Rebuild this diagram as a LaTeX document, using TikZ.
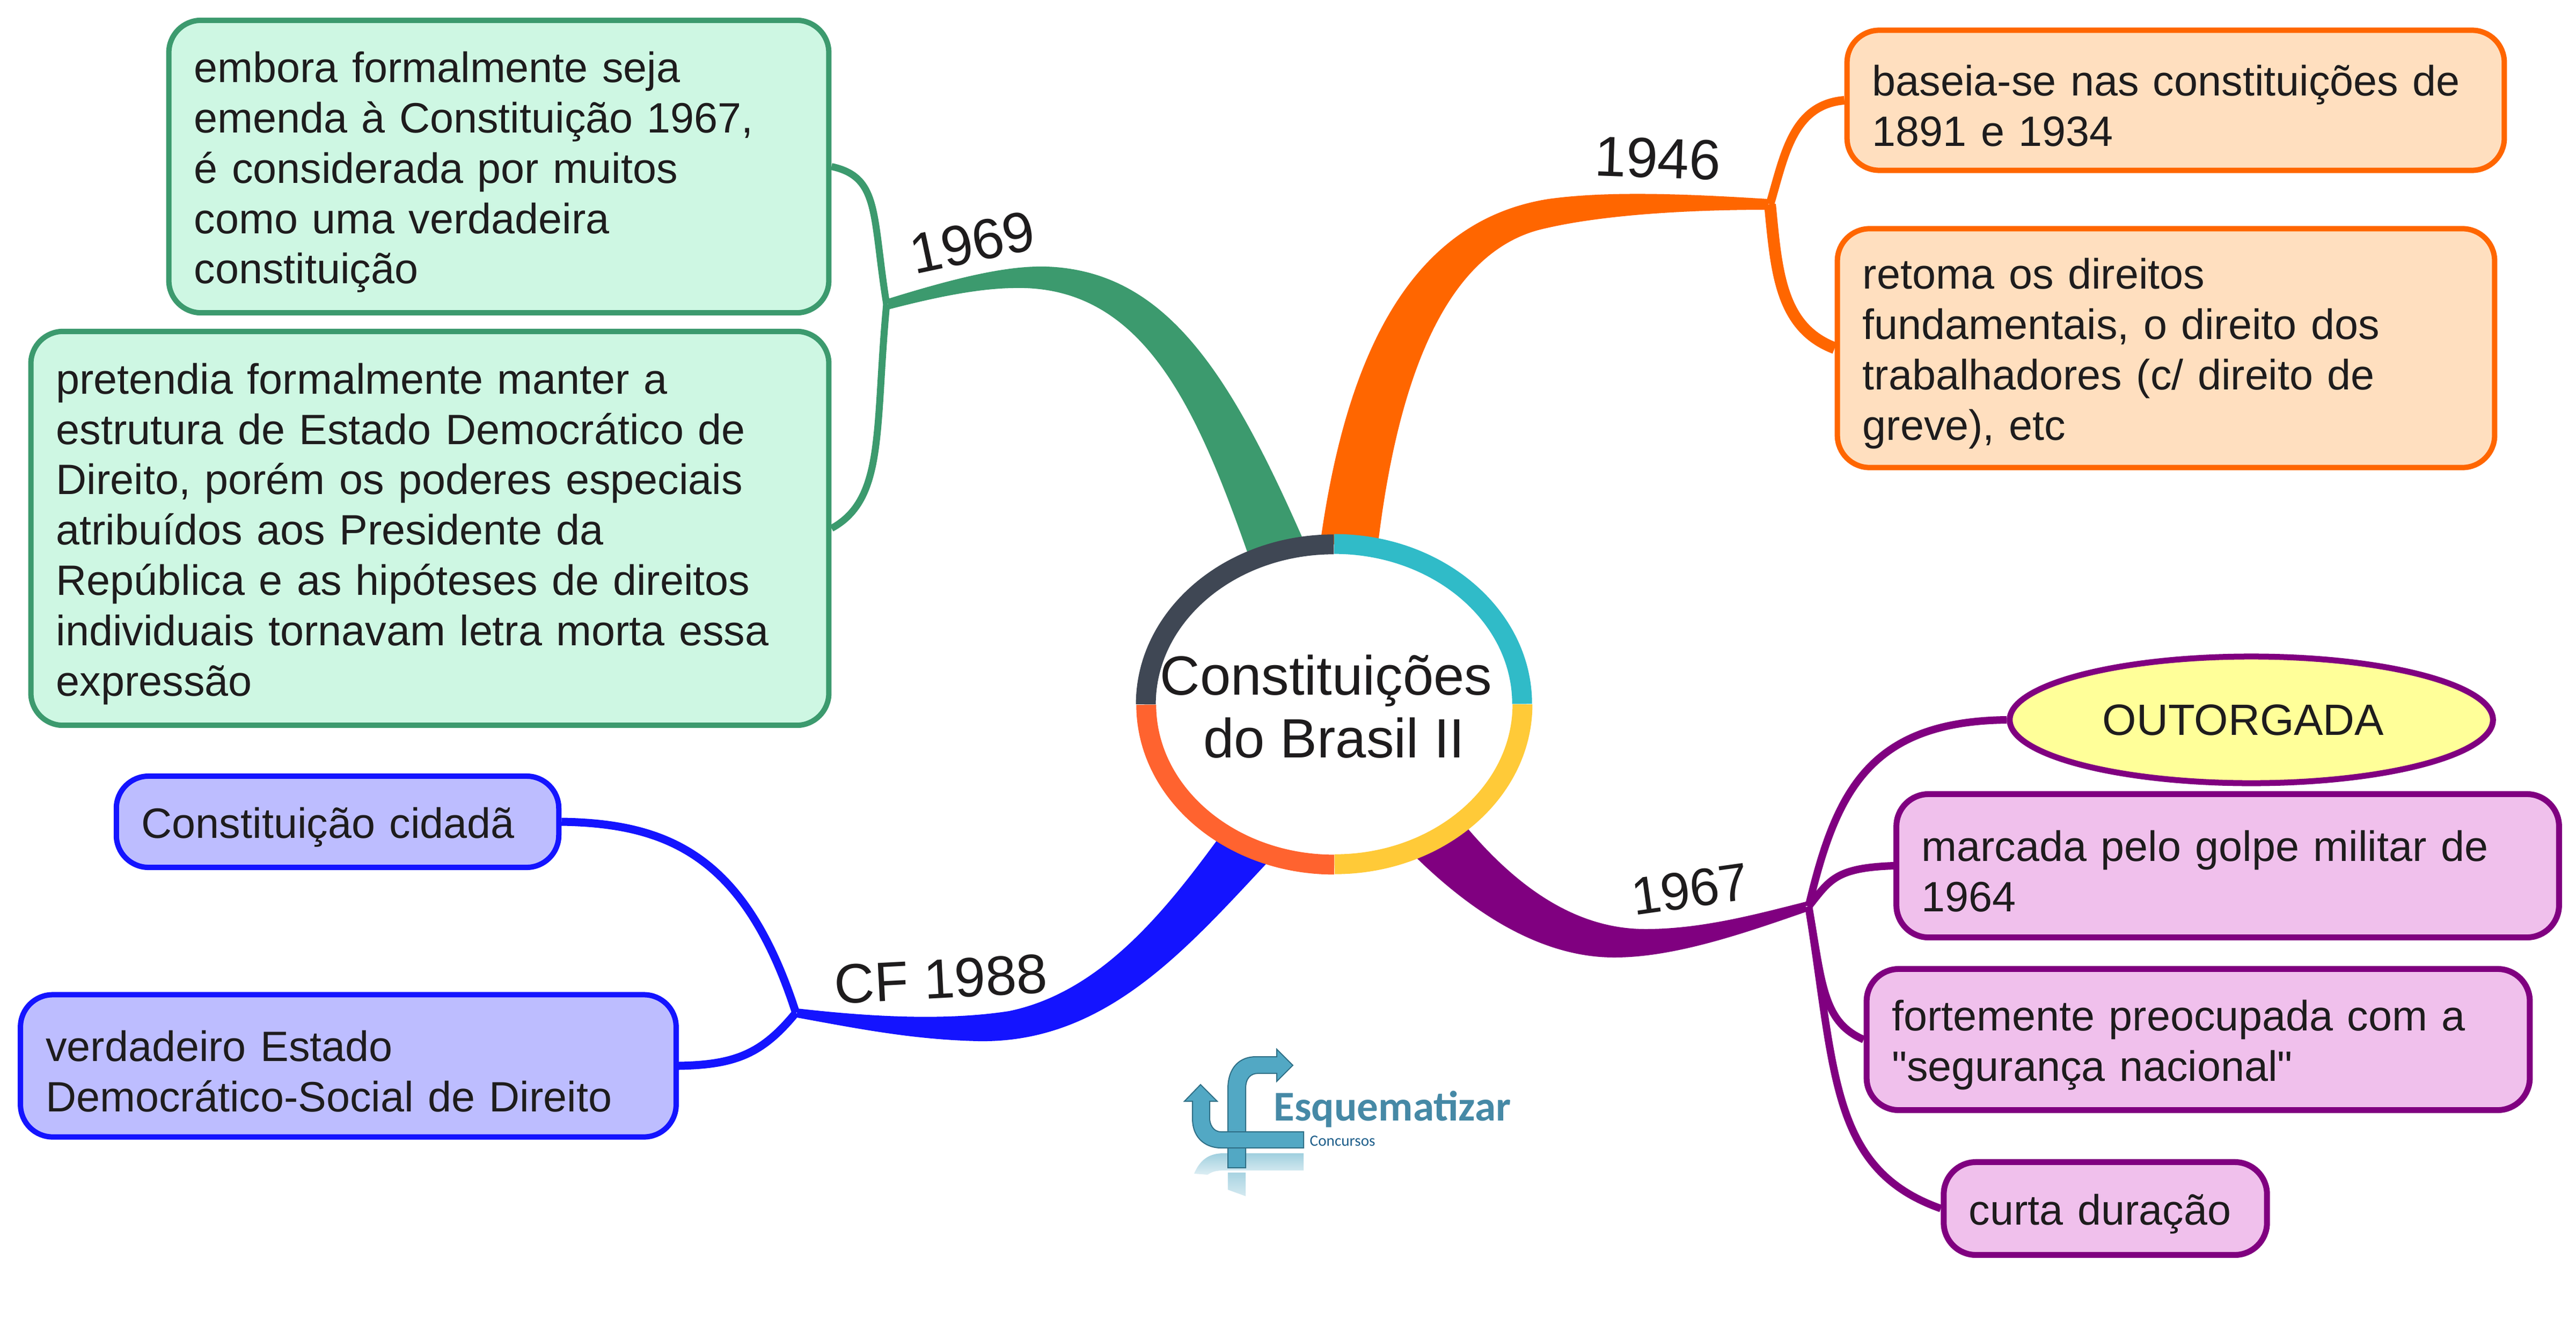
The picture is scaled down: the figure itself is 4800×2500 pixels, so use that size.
\documentclass[tikz,border=0pt]{standalone}
\usepackage{fontspec}
\setmainfont{Liberation Sans}
\newfontfamily\retafont{Liberation Sans}
\newfontfamily\logofont{Carlito}
\usetikzlibrary{shapes.geometric}
\definecolor{verde}{HTML}{3C9A6E}
\definecolor{verdeclaro}{HTML}{CEF7E3}
\definecolor{laranja}{HTML}{FF6600}
\definecolor{laranjaclaro}{HTML}{FFDFBF}
\definecolor{azul}{HTML}{1414FF}
\definecolor{azulclaro}{HTML}{BDBDFF}
\definecolor{roxo}{HTML}{800080}
\definecolor{roxoclaro}{HTML}{F0C0EC}
\definecolor{amarelo}{HTML}{FFFF99}
\definecolor{texto}{HTML}{1E1C1D}
\definecolor{aneltopo}{HTML}{30BBC8}
\definecolor{anelamarelo}{HTML}{FFCA38}
\definecolor{anellaranja}{HTML}{FF632F}
\definecolor{anelescuro}{HTML}{3F4754}
\definecolor{logoazul}{HTML}{52A8C4}
\definecolor{logoborda}{HTML}{2F6F86}
\definecolor{logotexto}{HTML}{4689A6}
\definecolor{logosub}{HTML}{1F5F8B}
\begin{document}
\begin{tikzpicture}[x=0.01cm,y=-0.01cm]
	\tikzstyle{block} = [rectangle,rounded corners=0.6cm,align=left,inner xsep=0.47cm,inner ysep=0cm,text=texto,font=\fontsize{22.5}{26.7}\selectfont,execute at begin node=\rule{0pt}{0.78cm}]
	\tikzstyle{ano} = [text=texto,inner sep=0cm,font=\fontsize{30}{34}\selectfont]
	\tikzstyle{arco} = [line width=0.37cm]
	\path[use as bounding box,fill=white] (0,0) rectangle (4800,2500);

	\node[block,draw=verde,line width=0.1cm,fill=verdeclaro,minimum width=12.29cm,minimum height=5.45cm,text width=11.35cm](embora)at(929.5,310.5){embora formalmente seja\\emenda à Constituição 1967,\\é considerada por muitos\\como uma verdadeira\\constituição};
	\node[block,draw=verde,line width=0.1cm,fill=verdeclaro,minimum width=14.86cm,minimum height=7.34cm,text width=13.92cm](pretendia)at(801,985){pretendia formalmente manter a\\estrutura de Estado Democrático de\\Direito, porém os poderes especiais\\atribuídos aos Presidente da\\República e as hipóteses de direitos\\individuais tornavam letra morta essa\\expressão};
	\node[block,execute at begin node=\rule{0pt}{0.69cm},draw=laranja,line width=0.1cm,fill=laranjaclaro,minimum width=12.24cm,minimum height=2.61cm,text width=11.3cm](baseia)at(4054,187){baseia-se nas constituições de\\1891 e 1934};
	\node[block,draw=laranja,line width=0.1cm,fill=laranjaclaro,minimum width=12.24cm,minimum height=4.45cm,text width=11.3cm](retoma)at(4036,649){retoma os direitos\\fundamentais, o direito dos\\trabalhadores (c/ direito de\\greve), etc};
	\node[ellipse,draw=roxo,line width=0.11cm,fill=amarelo,minimum width=9cm,minimum height=2.36cm,inner sep=0cm,text=texto,font=\fontsize{23.2}{26.7}\selectfont](outorgada)at(4195,1342){OUTORGADA\kern0.3cm};
	\node[block,draw=roxo,line width=0.11cm,fill=roxoclaro,minimum width=12.34cm,minimum height=2.67cm,text width=11.4cm](marcada)at(4151,1614){marcada pelo golpe militar de\\1964};
	\node[block,draw=roxo,line width=0.11cm,fill=roxoclaro,minimum width=12.35cm,minimum height=2.63cm,text width=11.41cm](fortemente)at(4096,1938){fortemente preocupada com a\\{\retafont"}segurança nacional{\retafont"}};
	\node[block,draw=roxo,line width=0.11cm,fill=roxoclaro,minimum width=6.02cm,minimum height=1.73cm,text width=5.08cm](curta)at(3923,2253){curta duração};
	\node[block,draw=azul,line width=0.1cm,fill=azulclaro,minimum width=8.24cm,minimum height=1.7cm,text width=7.3cm](cidada)at(629,1532){Constituição cidadã};
	\node[block,execute at begin node=\rule{0pt}{0.63cm},draw=azul,line width=0.1cm,fill=azulclaro,minimum width=12.21cm,minimum height=2.65cm,text width=11.27cm](verdadeiro)at(649,1987){verdadeiro Estado\\Democrático-Social de Direito};

	\coordinate(j1969)at(1652,567);
	\coordinate(j1946)at(3298,381);
	\coordinate(j1988)at(1483,1888);
	\coordinate(j1967)at(3370,1690);

	\draw[verde,line width=0.13cm] (embora.east) .. controls (1640,330) and (1625,400) .. (j1969);
	\draw[verde,line width=0.13cm] (j1969) .. controls (1630,800) and (1650,930) .. (pretendia.east);
	\draw[laranja,line width=0.16cm] (j1946) .. controls (3325,290) and (3340,195) .. (baseia.west);
	\draw[laranja,line width=0.22cm] (j1946) .. controls (3310,500) and (3315,610) .. (retoma.west);
	\draw[azul,line width=0.15cm] (cidada.east) .. controls (1250,1535) and (1390,1600) .. (j1988);
	\draw[azul,line width=0.15cm] (verdadeiro.east) .. controls (1370,1985) and (1420,1965) .. (j1988);
	\draw[roxo,line width=0.14cm] (j1967) .. controls (3420,1480) and (3480,1345) .. (outorgada.west);
	\draw[roxo,line width=0.14cm] (j1967) .. controls (3410,1640) and (3420,1618) .. (marcada.west);
	\draw[roxo,line width=0.14cm] (j1967) .. controls (3395,1830) and (3395,1905) .. (fortemente.west);
	\draw[roxo,line width=0.14cm] (j1967) .. controls (3420,2000) and (3410,2180) .. (curta.west);

	\fill[verde] (1655,557) .. controls (1790,515) and (1880,495) .. (1950,497) .. controls (2170,505) and (2290,690) .. (2430,1010) -- (2328,1040) .. controls (2230,760) and (2130,530) .. (1888,537) .. controls (1820,538) and (1740,555) .. (1655,577) -- cycle;
	\fill[laranja] (2459,1020) .. controls (2510,640) and (2640,410) .. (2885,371) .. controls (3000,355) and (3150,362) .. (3295,371) -- (3295,391) .. controls (3150,391) and (2980,400) .. (2866,429) .. controls (2680,480) and (2600,740) .. (2567,1020) -- cycle;
	\fill[azul] (1485,1880) .. controls (1600,1893) and (1750,1905) .. (1880,1885) .. controls (2050,1850) and (2170,1700) .. (2271,1562) -- (2369,1600) .. controls (2210,1770) and (2060,1945) .. (1823,1941) .. controls (1700,1938) and (1600,1918) .. (1485,1897) -- cycle;
	\fill[roxo] (2731,1540) .. controls (2840,1670) and (2950,1732) .. (3066,1732) .. controls (3170,1732) and (3270,1705) .. (3365,1681) -- (3365,1700) .. controls (3250,1740) and (3120,1785) .. (3008,1785) .. controls (2870,1785) and (2740,1700) .. (2630,1590) -- cycle;

	\node[ellipse,fill=white,minimum width=7cm,minimum height=5.96cm,inner sep=0cm](centro)at(2486,1313){};
	\draw[arco,aneltopo] (centro.north) arc[start angle=90,delta angle=-90,x radius=3.5cm,y radius=2.98cm];
	\draw[arco,anelamarelo] (centro.east) arc[start angle=0,delta angle=-90,x radius=3.5cm,y radius=2.98cm];
	\draw[arco,anellaranja] (centro.south) arc[start angle=270,delta angle=-90,x radius=3.5cm,y radius=2.98cm];
	\draw[arco,anelescuro] (centro.west) arc[start angle=180,delta angle=-90,x radius=3.5cm,y radius=2.98cm];
	\node[inner sep=0cm,align=center,text=texto,font=\fontsize{29.3}{33.4}\selectfont](titulo)at(2486,1317){Constituições\kern0.3cm\\do Brasil II};

	\node[ano,rotate=-2](a1946)at(3089,295){1946};
	\node[ano,rotate=12](a1969)at(1812,452){1969};
	\node[ano,rotate=8,font=\fontsize{28}{32}\selectfont](a1967)at(3149,1658){1967};
	\node[ano,rotate=3,font=\fontsize{29.5}{34}\selectfont](a1988)at(1753,1825){CF 1988};

	\shade[top color=logoazul!55,bottom color=logoazul!20] (2429,2150) -- (2280,2150) .. controls (2250,2150) and (2235,2165) .. (2225,2188) -- (2250,2190) .. controls (2262,2182) and (2270,2182) .. (2290,2182) -- (2429,2182) -- cycle;
	\shade[top color=logoazul!50,bottom color=logoazul!25] (2288,2186) -- (2321,2186) -- (2321,2230) -- (2288,2218) -- cycle;
	\draw[logoborda,line width=0.02cm,fill=logoazul] (2288,2177) -- (2288,2030) .. controls (2288,1990) and (2310,1970) .. (2340,1970) -- (2379,1970) -- (2379,1956) -- (2409,1986) -- (2379,2016) -- (2379,2001) -- (2345,2001) .. controls (2330,2001) and (2321,2010) .. (2321,2030) -- (2321,2177) -- cycle;
	\draw[logoborda,line width=0.02cm,fill=logoazul] (2429,2110) -- (2275,2110) .. controls (2260,2110) and (2254,2095) .. (2254,2085) -- (2254,2053) -- (2268,2053) -- (2237,2022) -- (2207,2053) -- (2222,2053) -- (2222,2085) .. controls (2222,2125) and (2250,2140) .. (2275,2140) -- (2429,2140) -- cycle;
	\node[anchor=base west,inner sep=0cm,text=logotexto,font=\logofont\bfseries\fontsize{22.5}{26}\selectfont](esquematizar)at(2373,2089){Esquematizar};
	\node[anchor=base west,inner sep=0cm,text=logosub,font=\logofont\fontsize{8.3}{10}\selectfont](concursos)at(2440,2136){Concursos};
\end{tikzpicture}
\end{document}
